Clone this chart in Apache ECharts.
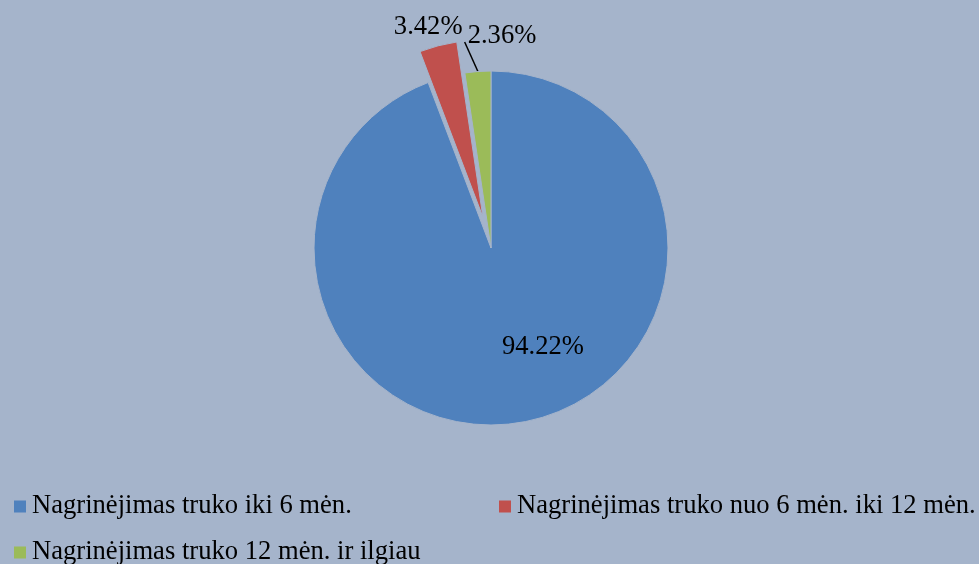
<!DOCTYPE html>
<html>
<head>
<meta charset="utf-8">
<script src="https://cdn.jsdelivr.net/npm/echarts@6/dist/echarts.min.js"></script>
<style>
  html, body { margin: 0; padding: 0; background: #a5b4cb; }
  #chart { width: 979px; height: 564px; }
</style>
</head>
<body>
<div id="chart"></div>
<script>
(function() {
    var categories = [
        'Nagrinėjimas truko iki 6 mėn.',
        'Nagrinėjimas truko nuo 6 mėn. iki 12 mėn.',
        'Nagrinėjimas truko 12 mėn. ir ilgiau'
    ];
    var shares = [94.22, 3.42, 2.36];
    var colors = ['#4f81bd', '#c0504d', '#9bbb59'];
    var exploded = [false, true, false];

    var bg = '#a5b4cb';
    var font = "'Liberation Serif', 'Times New Roman', serif";
    // label centres (text only); the exploded slice keeps its own select-state label spot
    var labelAt = [[543, 347], null, [502, 36]];

    var data = categories.map(function(name, i) {
        return {
            name: name,
            value: shares[i],
            selected: exploded[i],
            itemStyle: { color: colors[i] },
            labelLine: {
                show: i === 2,
                length: i === 1 ? 19.5 : 10,
                length2: 0,
                lineStyle: { color: '#000', width: 1.5 }
            }
        };
    });

    function legendAt(idx, left, top) {
        return {
            data: [categories[idx]],
            left: left, top: top,
            orient: 'horizontal',
            padding: 0,
            icon: 'rect',
            itemWidth: 14, itemHeight: 14,
            selectedMode: false,
            textStyle: { fontFamily: font, fontSize: 26.6, color: '#000', lineHeight: 27 }
        };
    }

    var chart = echarts.init(document.getElementById('chart'), null, { renderer: 'canvas' });
    chart.setOption({
        backgroundColor: bg,
        animation: false,
        legend: [
            legendAt(0, 12, 493),
            legendAt(1, 497, 493),
            legendAt(2, 12, 539)
        ],
        series: [{
            type: 'pie',
            center: [491, 248],
            radius: [0, 177],
            startAngle: 90,
            clockwise: true,
            selectedMode: 'single',
            selectedOffset: 32,
            avoidLabelOverlap: false,
            itemStyle: { borderColor: bg, borderWidth: 1 },
            select: { itemStyle: { borderColor: bg, borderWidth: 1 } },
            emphasis: { disabled: true },
            label: {
                show: true,
                position: 'outside',
                formatter: function(p) { return p.value.toFixed(2) + '%'; },
                fontFamily: font,
                fontSize: 26.6,
                color: '#000'
            },
            labelLayout: function(p) {
                var pos = labelAt[p.dataIndex];
                if (!pos) {
                    return { align: 'center', verticalAlign: 'middle' };
                }
                var out = { x: pos[0], y: pos[1], align: 'center', verticalAlign: 'middle' };
                if (p.dataIndex === 2 && p.rect) {
                    var w = p.labelRect.width;
                    out.labelLinePoints = [
                        [p.rect.x + p.rect.width / 2, p.rect.y + 1],
                        [pos[0] - w / 2 - 3, pos[1] + 6]
                    ];
                }
                return out;
            },
            data: data
        }]
    });
})();
</script>
</body>
</html>
